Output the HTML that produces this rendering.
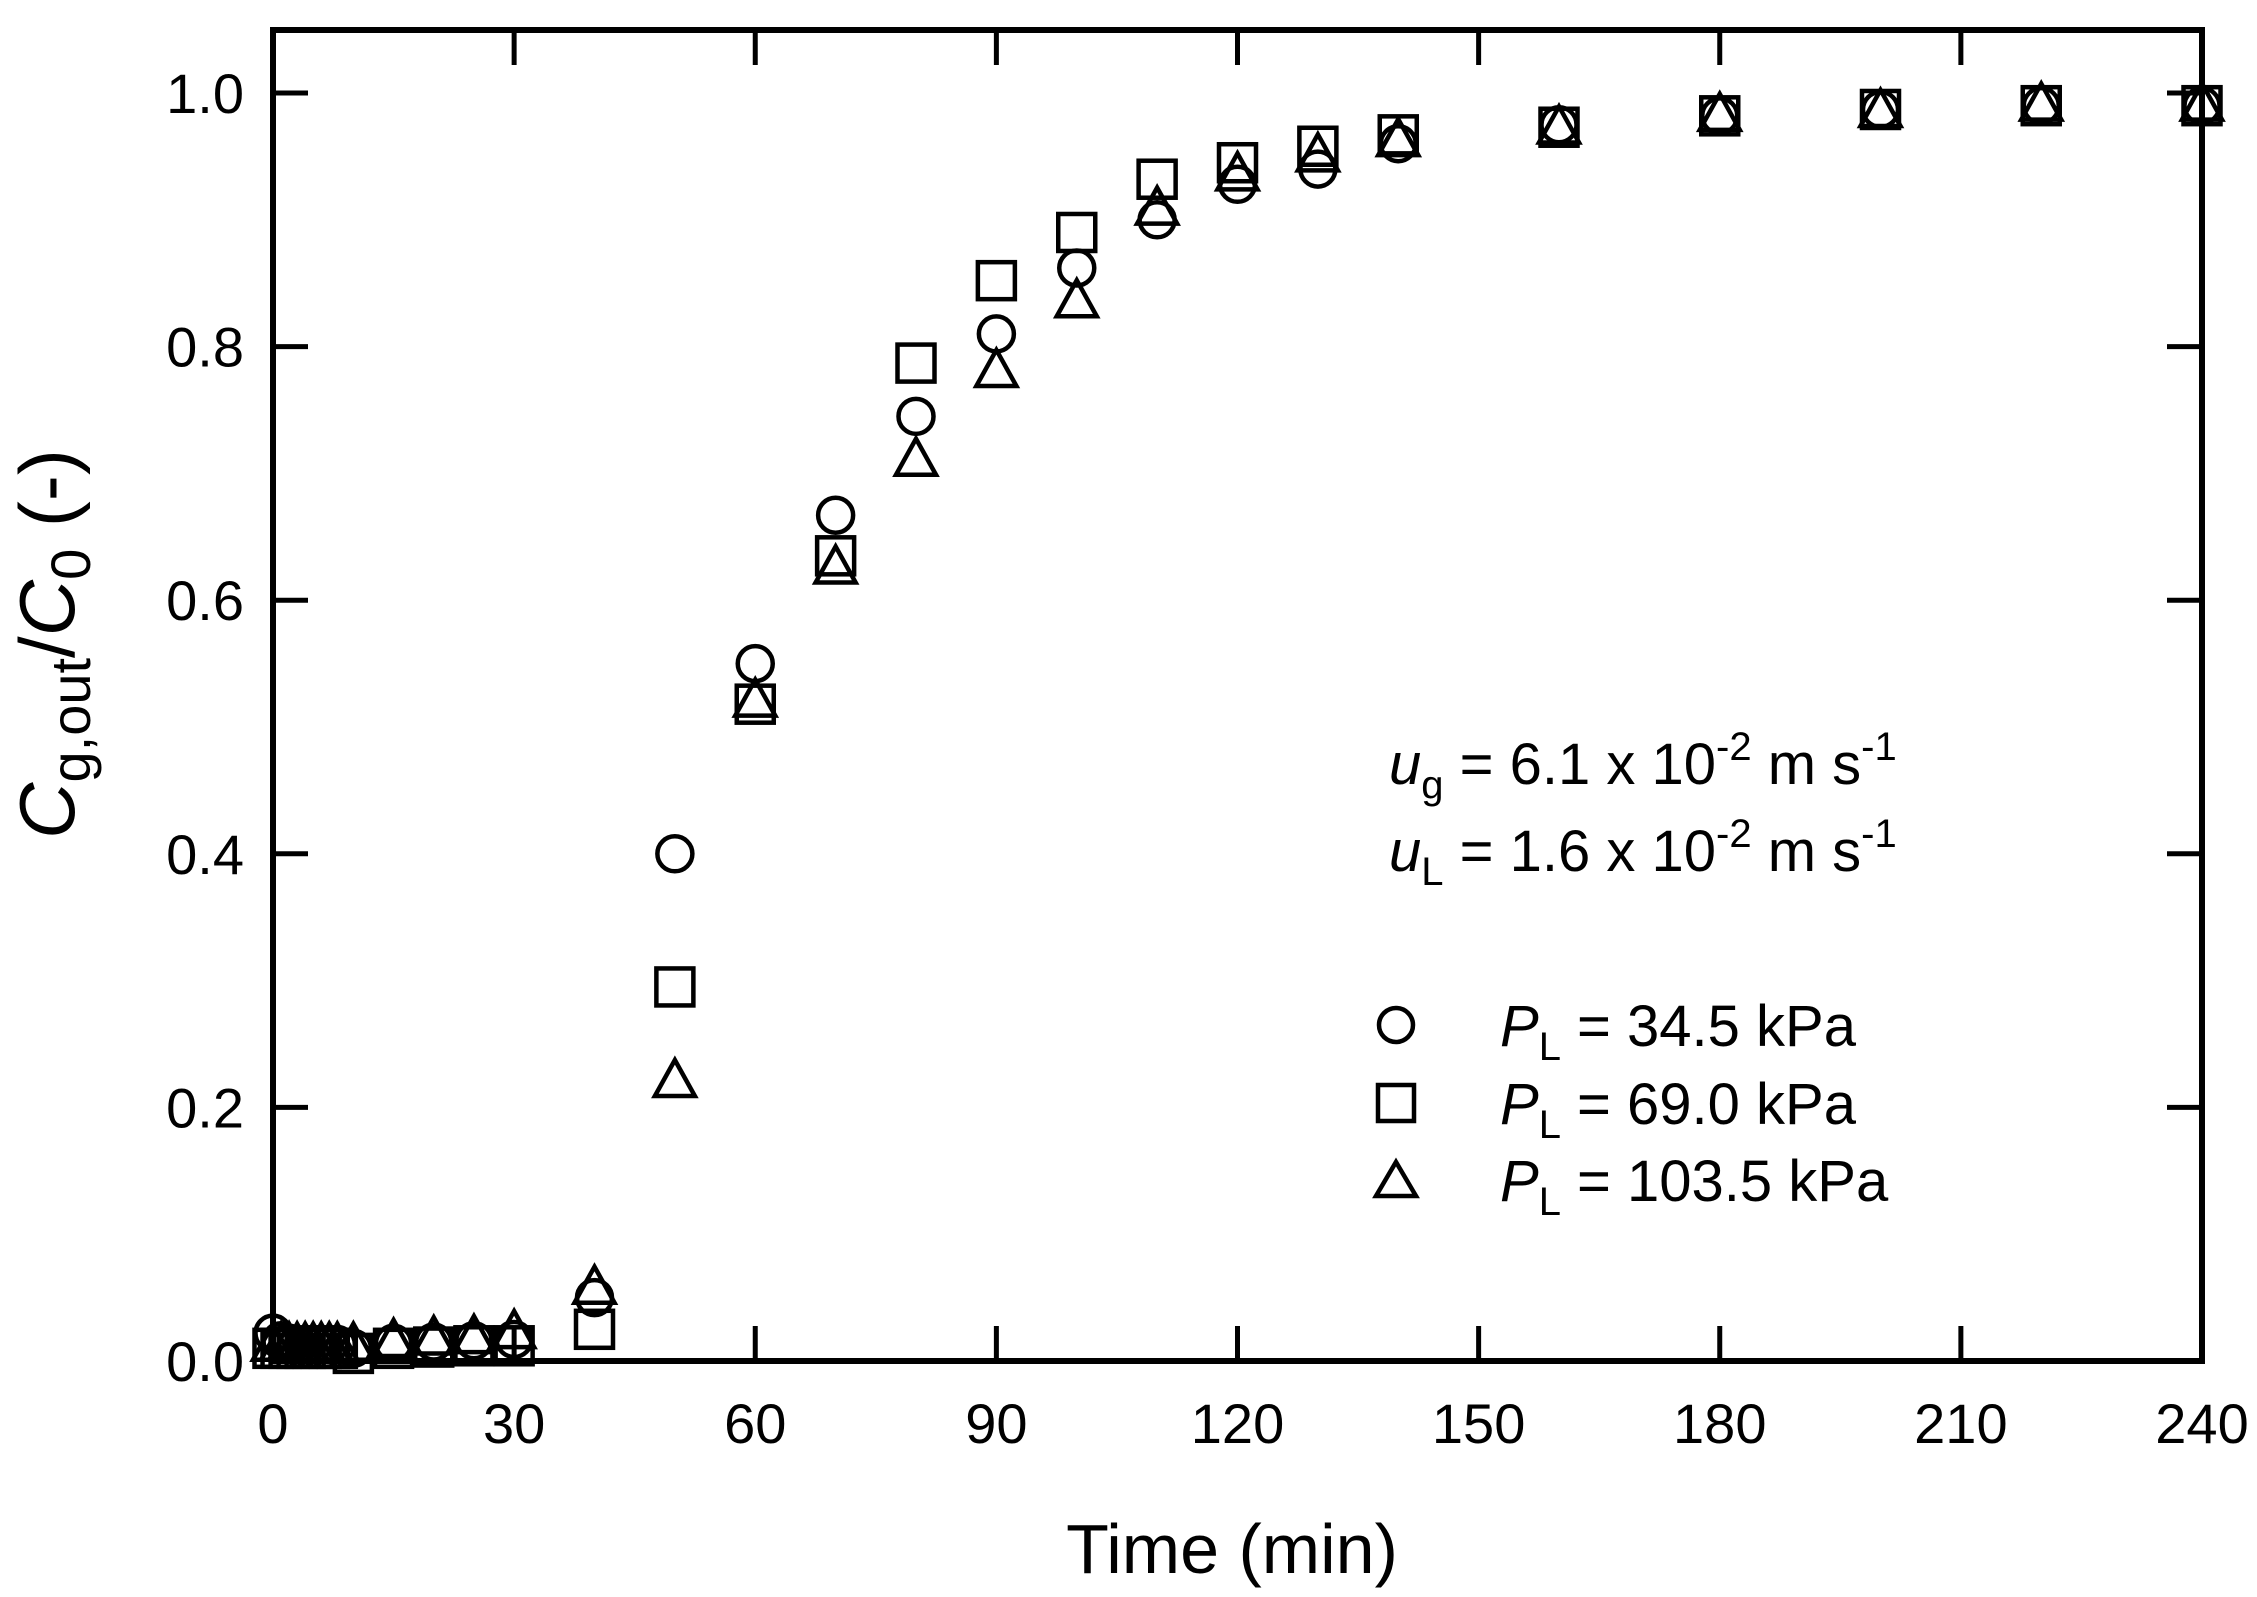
<!DOCTYPE html>
<html><head><meta charset="utf-8"><style>
html,body{margin:0;padding:0;background:#fff}
svg{display:block}
text{font-family:"Liberation Sans",Arial,sans-serif;fill:#000}
</style></head><body>
<svg width="2257" height="1597" viewBox="0 0 2257 1597" xmlns="http://www.w3.org/2000/svg">
<g id="marks" fill="none" stroke="#000" stroke-width="4.5"></g>
<rect x="273" y="30" width="1929" height="1331" fill="none" stroke="#000" stroke-width="6"/>
<g id="ticks" stroke="#000" stroke-width="5"></g>
<g id="labels" font-size="56"></g>
<text x="1232" y="1573" font-size="70" text-anchor="middle">Time (min)</text>
<text transform="translate(74,644) rotate(-90)" font-size="78" text-anchor="middle"><tspan font-style="italic">C</tspan><tspan font-size="56" dy="16">g,out</tspan><tspan dy="-16">/</tspan><tspan font-style="italic">C</tspan><tspan font-size="56" dy="16">0</tspan><tspan dy="-16"> (-)</tspan></text>
<text x="1389" y="784" font-size="58"><tspan font-style="italic">u</tspan><tspan font-size="40" dy="14">g</tspan><tspan dy="-14"> = 6.1 x 10</tspan><tspan font-size="40" dy="-24">-2</tspan><tspan dy="24"> m s</tspan><tspan font-size="40" dy="-24">-1</tspan></text>
<text x="1389" y="871" font-size="58"><tspan font-style="italic">u</tspan><tspan font-size="40" dy="14">L</tspan><tspan dy="-14"> = 1.6 x 10</tspan><tspan font-size="40" dy="-24">-2</tspan><tspan dy="24"> m s</tspan><tspan font-size="40" dy="-24">-1</tspan></text>
<g fill="none" stroke="#000" stroke-width="4.5">
<circle cx="1396" cy="1025" r="17"/>
<rect x="1378" y="1085" width="36" height="36"/>
<polygon points="1376,1196 1416,1196 1396,1162"/>
</g>
<text x="1500" y="1046" font-size="58"><tspan font-style="italic">P</tspan><tspan font-size="40" dy="14">L</tspan><tspan dy="-14"> = 34.5 kPa</tspan></text>
<text x="1500" y="1124" font-size="58"><tspan font-style="italic">P</tspan><tspan font-size="40" dy="14">L</tspan><tspan dy="-14"> = 69.0 kPa</tspan></text>
<text x="1500" y="1201" font-size="58"><tspan font-style="italic">P</tspan><tspan font-size="40" dy="14">L</tspan><tspan dy="-14"> = 103.5 kPa</tspan></text>
<script>
(function(){
var NS="http://www.w3.org/2000/svg";
function X(t){return 273+t*8.0375}
function Y(v){return 1361-v*1268}
var tk=document.getElementById('ticks'),lb=document.getElementById('labels'),mk=document.getElementById('marks');
function el(p,n,a,txt){var e=document.createElementNS(NS,n);for(var k in a)e.setAttribute(k,a[k]);if(txt!=null)e.textContent=txt;p.appendChild(e);return e}
for(var t=0;t<=240;t+=30){var x=X(t);
el(tk,'line',{x1:x,y1:1361,x2:x,y2:1326});el(tk,'line',{x1:x,y1:30,x2:x,y2:65});
el(lb,'text',{x:x,y:1443,'text-anchor':'middle'},String(t));}
for(var i=0;i<=5;i++){var v=i*0.2,y=Y(v);
el(tk,'line',{x1:273,y1:y,x2:308,y2:y});el(tk,'line',{x1:2202,y1:y,x2:2167,y2:y});
el(lb,'text',{x:244,y:y+20,'text-anchor':'end'},v.toFixed(1));}
var C=[[0,0.022],[1,0.016],[2,0.014],[3,0.013],[4,0.013],[5,0.013],[6,0.013],[7,0.013],[8,0.013],[10,0.01],[15,0.014],[20,0.015],[25,0.016],[30,0.017],[40,0.05],[50,0.40],[60,0.55],[70,0.667],[80,0.745],[90,0.81],[100,0.862],[110,0.90],[120,0.928],[130,0.94],[140,0.96],[160,0.975],[180,0.982],[200,0.987],[220,0.99],[240,0.99]];
var S=[[0,0.01],[1,0.01],[2,0.01],[3,0.01],[4,0.01],[5,0.01],[6,0.01],[7,0.01],[8,0.01],[10,0.006],[15,0.01],[20,0.011],[25,0.012],[30,0.012],[40,0.025],[50,0.295],[60,0.518],[70,0.635],[80,0.787],[90,0.852],[100,0.89],[110,0.932],[120,0.945],[130,0.958],[140,0.967],[160,0.973],[180,0.982],[200,0.987],[220,0.99],[240,0.99]];
var T=[[0,0.012],[1,0.012],[2,0.012],[3,0.012],[4,0.012],[5,0.012],[6,0.012],[7,0.012],[8,0.012],[10,0.012],[15,0.015],[20,0.017],[25,0.018],[30,0.022],[40,0.057],[50,0.22],[60,0.52],[70,0.625],[80,0.71],[90,0.78],[100,0.835],[110,0.908],[120,0.935],[130,0.95],[140,0.962],[160,0.972],[180,0.982],[200,0.985],[220,0.99],[240,0.99]];
C.forEach(function(p){el(mk,'circle',{cx:X(p[0]),cy:Y(p[1]),r:17.5})});
S.forEach(function(p){var x=X(p[0]),y=Y(p[1]);el(mk,'rect',{x:x-18.5,y:y-18.5,width:37,height:37})});
T.forEach(function(p){var x=X(p[0]),y=Y(p[1]);el(mk,'polygon',{points:(x-20)+','+(y+14)+' '+(x+20)+','+(y+14)+' '+x+','+(y-22)})});
})();
</script>
</svg>
</body></html>
